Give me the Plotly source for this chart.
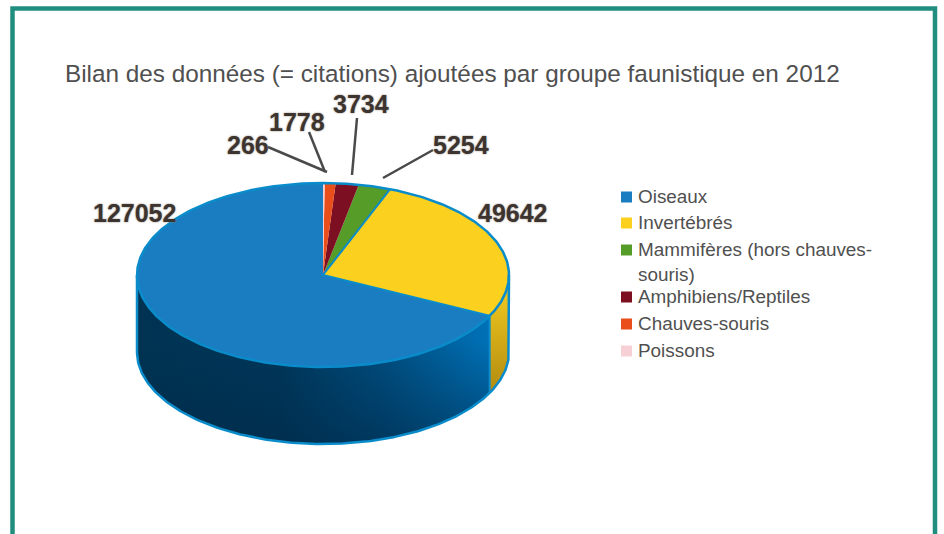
import numpy as np
import plotly.graph_objects as go

# ---- data ----
categories = ["Oiseaux", "Invertébrés", "Mammifères (hors chauves-souris)",
              "Amphibiens/Reptiles", "Chauves-souris", "Poissons"]
values = [127052, 49642, 5254, 3734, 1778, 266]
colors = ["#1b7dc1", "#fbd01f", "#559c28", "#7c1022", "#e94e1b", "#f7d0d5"]
title = "Bilan des données (= citations) ajoutées par groupe faunistique en 2012"
legend_lines = ["Oiseaux", "Invertébrés", "Mammifères (hors chauves-<br>souris)",
                "Amphibiens/Reptiles", "Chauves-souris", "Poissons"]

# ---- layout constants (pixel coordinates of the page) ----
W, H = 944, 534
CX, CY, RX, RY, DEPTH = 323, 275, 186, 92, 77
EDGE = "#0a8ccb"
legend_y = [197, 223, 250, 297, 324, 351]
label_pos = [(134, 213), (513, 213), (461, 145), (361, 104), (297, 122), (248, 145)]
leaders = [None, None, ((433, 150), (383, 178)), ((357, 118), (352, 175)),
           ((309, 132), (325, 172)), ((268, 147), (327, 172))]


def px(theta):
    return CX + RX * np.sin(theta), CY - RY * np.cos(theta)


fig = go.Figure()

# angular extents: clockwise from 12 o'clock, legend order reversed
total = sum(values)
spans = {}
start = 0.0
for i in reversed(range(len(values))):
    end = start + 2 * np.pi * values[i] / total
    spans[i] = (start, end)
    start = end


def side(t0, t1):
    t = np.linspace(t0, t1, 120)
    x, y = px(t)
    return np.r_[x, x[::-1], x[0]], np.r_[y, (y + DEPTH)[::-1], y[0]]


# side wall of Invertébrés (visible from 3 o'clock to the slice's end)
x, y = side(np.pi / 2, spans[1][1])
fig.add_trace(go.Scatter(x=x, y=y, mode="lines", line=dict(width=0), fill="toself",
                         fillgradient=dict(type="vertical", start=280, stop=395,
                                           colorscale=[[0, "#f6cd20"], [1, "#b08a10"]]),
                         hoverinfo="skip", showlegend=False))
# side wall of Oiseaux (from the slice's start to 9 o'clock)
x, y = side(spans[0][0], 3 * np.pi / 2)
fig.add_trace(go.Scatter(x=x, y=y, mode="lines", line=dict(width=0), fill="toself",
                         fillgradient=dict(type="horizontal", start=137, stop=490,
                                           colorscale=[[0, "#003352"], [0.4, "#00375a"],
                                                       [0.7, "#004f82"], [1, "#0072b8"]]),
                         hoverinfo="skip", showlegend=False))
fig.add_trace(go.Scatter(x=x, y=y, mode="lines", line=dict(width=0), fill="toself",
                         fillgradient=dict(type="vertical", start=340, stop=445,
                                           colorscale=[[0, "rgba(0,40,70,0)"],
                                                       [1, "rgba(0,40,70,0.6)"]]),
                         hoverinfo="skip", showlegend=False))

# top face wedges
for i in range(len(values)):
    t = np.linspace(*spans[i], max(3, int(400 * values[i] / total)))
    ex, ey = px(t)
    fig.add_trace(go.Scatter(x=np.r_[CX, ex, CX], y=np.r_[CY, ey, CY], mode="lines",
                             line=dict(width=0), fill="toself", fillcolor=colors[i],
                             name=categories[i], hoverinfo="name", showlegend=False))

# outlines
t = np.linspace(0, 2 * np.pi, 400)
ex, ey = px(t)
fig.add_trace(go.Scatter(x=ex, y=ey, mode="lines", line=dict(color=EDGE, width=2.5),
                         hoverinfo="skip", showlegend=False))
t = np.linspace(np.pi / 2, 3 * np.pi / 2, 200)
ex, ey = px(t)
fig.add_trace(go.Scatter(x=np.r_[ex[0], ex, ex[-1]], y=np.r_[ey[0], ey + DEPTH, ey[-1]],
                         mode="lines", line=dict(color=EDGE, width=2.5),
                         hoverinfo="skip", showlegend=False))
# edges of the Invertébrés slice
bx0, by0 = px(spans[1][0])
bx1, by1 = px(spans[1][1])
fig.add_trace(go.Scatter(x=[bx0, CX, bx1, bx1], y=[by0, CY, by1, by1 + DEPTH],
                         mode="lines", line=dict(color=EDGE, width=2),
                         hoverinfo="skip", showlegend=False))

# leader lines
for seg in leaders:
    if seg:
        fig.add_trace(go.Scatter(x=[seg[0][0], seg[1][0]], y=[seg[0][1], seg[1][1]],
                                 mode="lines", line=dict(color="#4a4a4a", width=2.5),
                                 hoverinfo="skip", showlegend=False))

# legend swatches
fig.add_trace(go.Scatter(x=[626.5] * len(colors), y=legend_y, mode="markers",
                         marker=dict(symbol="square", size=11, color=colors, line=dict(width=0)),
                         hoverinfo="skip", showlegend=False))

annotations = []
for v, (lx, ly) in zip(values, label_pos):
    annotations.append(dict(x=lx, y=ly, text=str(v), showarrow=False, xanchor="center",
                            yanchor="middle",
                            font=dict(family="Liberation Sans", size=25, color="#3d342f",
                                      weight="bold", shadow="0 0 2px #8a8078")))
for txt, ly in zip(legend_lines, legend_y):
    annotations.append(dict(x=636, y=ly - 13, text=txt, showarrow=False, xanchor="left",
                            yanchor="top", align="left",
                            font=dict(family="Liberation Sans", size=18.9, color="#505050")))

fig.update_layout(
    width=W, height=H, margin=dict(l=0, r=0, t=0, b=0),
    paper_bgcolor="white", plot_bgcolor="white", showlegend=False,
    xaxis=dict(range=[0, W], visible=False, fixedrange=True),
    yaxis=dict(range=[H, 0], visible=False, fixedrange=True),
    title=dict(text=title, x=65 / W, xanchor="left", y=1 - 73 / H, yanchor="middle",
               font=dict(family="Liberation Sans", size=24.3, color="#505050")),
    annotations=annotations,
    shapes=[dict(type="rect", xref="x", yref="y", x0=12.5, x1=935, y0=8.5, y1=600,
                 line=dict(color="#208e7e", width=4.5), layer="above")],
)

fig.write_html("out.html", config={"displayModeBar": False},
               post_script="document.body.style.margin='0';document.body.style.overflow='hidden';")
